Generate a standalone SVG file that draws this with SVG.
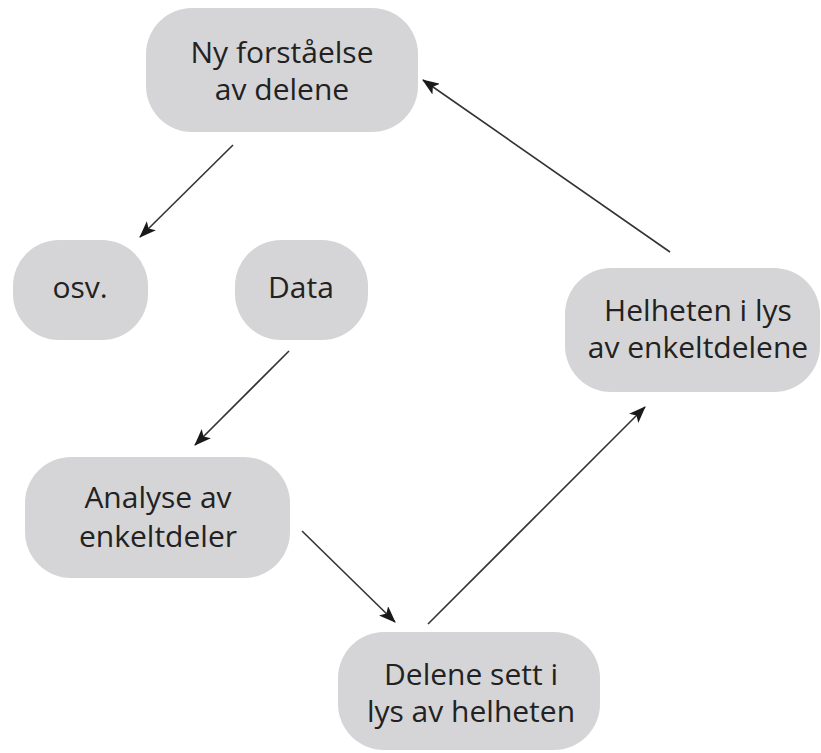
<svg xmlns="http://www.w3.org/2000/svg" width="821" height="753" viewBox="0 0 821 753">
<style>
.box{fill:#d5d5d7;}
.t{font-family:"Open Sans","Noto Sans",sans-serif;font-size:30px;fill:#222;text-anchor:middle;}
.c{stroke:#333;stroke-width:1.6;fill:none;marker-end:url(#ah);}
</style>
<defs>
<marker id="ah" viewBox="0 0 17 13" refX="16" refY="6.5" markerWidth="17" markerHeight="13" markerUnits="userSpaceOnUse" orient="auto">
<path d="M0,0 L17,6.5 L0,13 L4,6.5 Z" fill="#1a1a1a"/>
</marker>
</defs>
<rect width="821" height="753" fill="#fff"/>
<g id="node-ny">
<rect class="box" x="146" y="8" width="272" height="124" rx="46"/>
<text class="t" x="282" y="63">Ny forståelse</text>
<text class="t" x="282" y="100">av delene</text>
</g>
<g id="node-osv">
<rect class="box" x="13" y="240" width="135" height="100" rx="46"/>
<text class="t" x="80" y="298">osv.</text>
</g>
<g id="node-data">
<rect class="box" x="235" y="240" width="133" height="100" rx="46"/>
<text class="t" x="301" y="298">Data</text>
</g>
<g id="node-helheten">
<rect class="box" x="565" y="268" width="255" height="124" rx="46"/>
<text class="t" x="698" y="321">Helheten i lys</text>
<text class="t" x="698" y="358">av enkeltdelene</text>
</g>
<g id="node-analyse">
<rect class="box" x="25" y="457" width="265" height="121" rx="46"/>
<text class="t" x="158" y="508">Analyse av</text>
<text class="t" x="158" y="547">enkeltdeler</text>
</g>
<g id="node-delene">
<rect class="box" x="338" y="632" width="262" height="118" rx="46"/>
<text class="t" x="471" y="685">Delene sett i</text>
<text class="t" x="471" y="722">lys av helheten</text>
</g>
<g id="connectors">
<line class="c" x1="233" y1="145" x2="140" y2="237"/>
<line class="c" x1="289" y1="351" x2="195" y2="445"/>
<line class="c" x1="302" y1="531" x2="395" y2="622"/>
<line class="c" x1="428" y1="624" x2="645" y2="407"/>
<line class="c" x1="670" y1="252" x2="423" y2="80"/>
</g>
</svg>
